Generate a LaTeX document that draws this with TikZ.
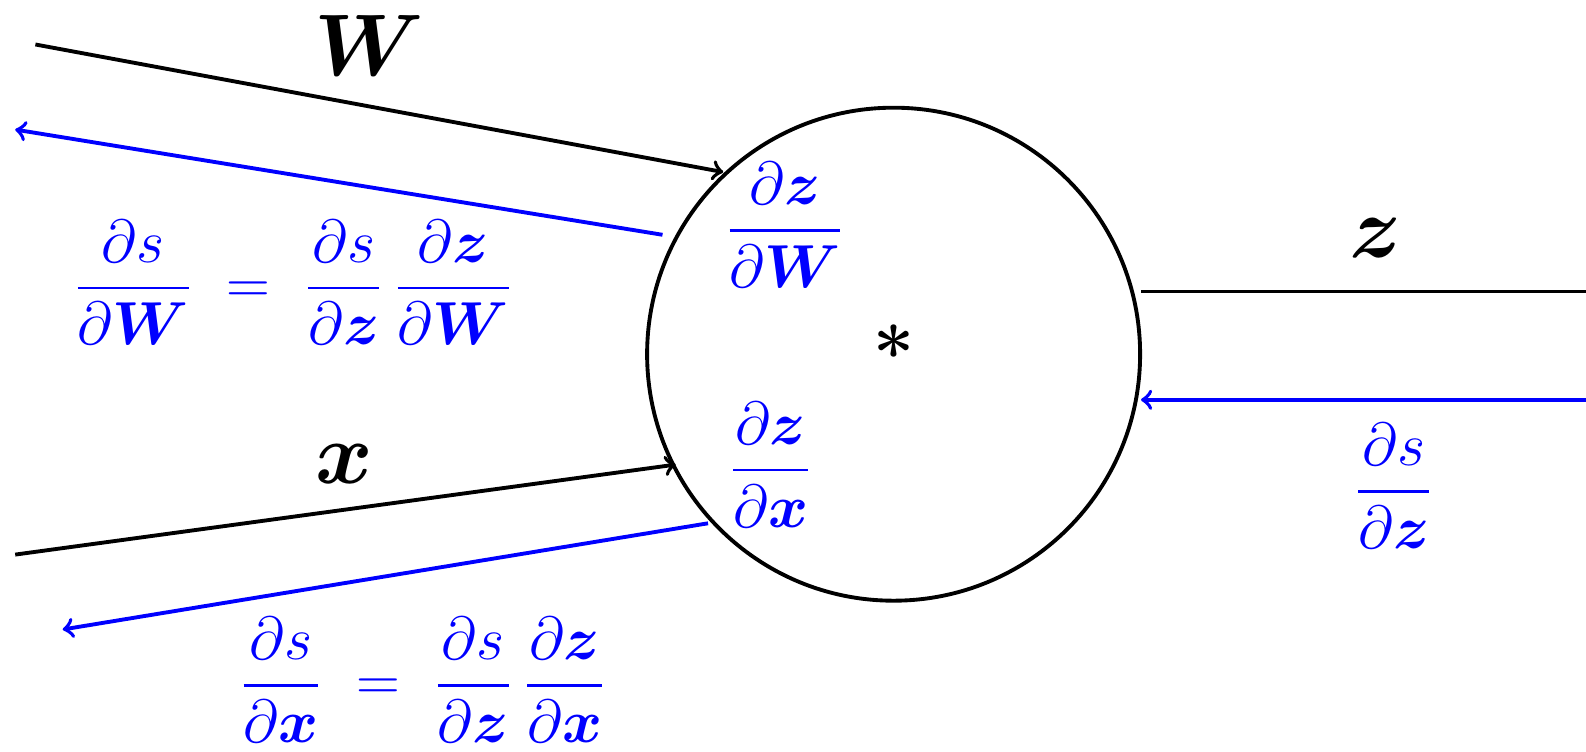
\documentclass[tikz,border=0pt]{standalone}
\usepackage{amsmath,bm}
\usetikzlibrary{positioning,arrows.meta,calc}

\begin{document}
\begin{tikzpicture}[
  >=to,
  fwd/.style={black,line width=1.1pt,->},
  bwd/.style={blue,line width=1.1pt,->},
  var/.style={font=\Huge,inner sep=0pt},
  grad/.style={font=\fontsize{18.6}{22}\selectfont,text=blue,inner sep=0pt},
]
\useasboundingbox (0,0) rectangle (15.86,7.51);

% the gate
\node[circle,draw,line width=1.1pt,minimum size=4.93cm,inner sep=0pt] (gate) at (8.936,3.968) {};
\node[font=\huge\bfseries,inner sep=0pt] (op) at (8.94,3.99) {*};

% free ends of the wires
\coordinate (Win)  at (0.354,7.065);
\coordinate (Wend) at (7.232,5.789);
\coordinate (gWs)  at (6.625,5.162);
\coordinate (gWe)  at (0.152,6.214);
\coordinate (xin)  at (0.152,1.964);
\coordinate (xend) at (6.757,2.864);
\coordinate (gxs)  at (7.08,2.277);
\coordinate (gxe)  at (0.627,1.215);
\coordinate (zs)   at (11.41,4.595);
\coordinate (zout) at (15.86,4.595);
\coordinate (gzs)  at (15.86,3.512);
\coordinate (gze)  at (11.41,3.512);

% forward pass
\draw[fwd] (Win) -- (Wend);
\draw[fwd] (xin) -- (xend);
\draw[black,line width=1.1pt] (zs) -- (zout);

% backward pass
\draw[bwd] (gWs) -- (gWe);
\draw[bwd] (gxs) -- (gxe);
\draw[bwd] (gzs) -- (gze);

% labels
\node[var] (Wlbl) at (3.692,7.055) {$\bm{W}$};
\node[var] (xlbl) at (3.439,2.87) {$\bm{x}$};
\node[var] (zlbl) at (13.756,5.132) {$\bm{z}$};

\node[grad] (dzdW) at (7.849,5.26) {$\dfrac{\partial \bm{z}}{\partial \bm{W}}$};
\node[grad] (dzdx) at (7.707,2.864) {$\dfrac{\partial \bm{z}}{\partial \bm{x}}$};
\node[grad] (dsdz) at (13.938,2.65) {$\dfrac{\partial s}{\partial \bm{z}}$};

\node[grad] (eqW) at (2.933,4.685)
  {$\dfrac{\partial s}{\partial \bm{W}} \;=\; \dfrac{\partial s}{\partial \bm{z}}\,\dfrac{\partial \bm{z}}{\partial \bm{W}}$};
\node[grad] (eqx) at (4.228,0.71)
  {$\dfrac{\partial s}{\partial \bm{x}} \;=\; \dfrac{\partial s}{\partial \bm{z}}\,\dfrac{\partial \bm{z}}{\partial \bm{x}}$};

\end{tikzpicture}
\end{document}
